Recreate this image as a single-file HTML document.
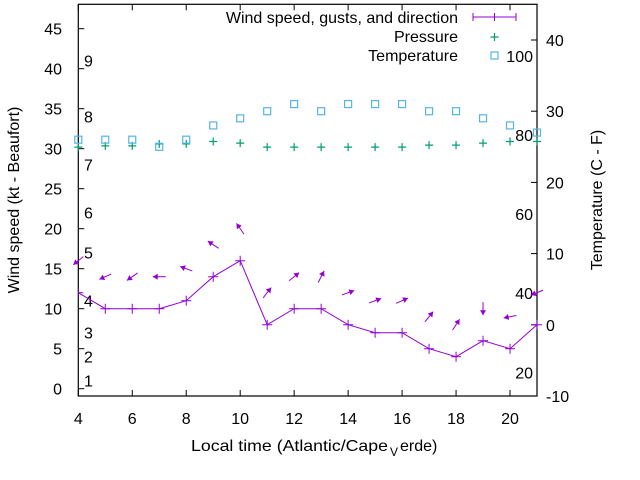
<!DOCTYPE html>
<html><head><meta charset="utf-8"><style>
html,body{margin:0;padding:0;background:#fff;}
svg{display:block;font-family:"Liberation Sans",Arial,sans-serif;}
</style></head><body>
<svg id="chart" width="640" height="480" viewBox="0 0 640 480"></svg>
<script>
const hours=[4,5,6,7,8,9,10,11,12,13,14,15,16,17,18,19,20,21];
const windSpeed=[12,10,10,10,11,14,16,8,10,10,8,7,7,5,4,6,5,8];
const gusts=[16,14,14,14,15,18,20,12,14,14,12,11,11,9,8,10,9,12];
const arrowAngle=[219,204,215,180,160,146,125,52,39,63,20,20,24,51,57,270,191,202];
const pressure=[30.2,30.35,30.35,30.6,30.6,30.9,30.7,30.2,30.2,30.2,30.2,30.2,30.2,30.45,30.45,30.7,30.9,30.9];
const temperature=[26,26,26,25,26,28,29,30,31,30,31,31,31,30,30,29,28,27];
const xTicks=[4,6,8,10,12,14,16,18,20];
const yLeftTicks=[0,5,10,15,20,25,30,35,40,45];
const yRightTicks=[-10,0,10,20,30,40];
const beaufortLabels=[[1,1],[2,4],[3,7],[4,11],[5,17],[6,22],[7,28],[8,34],[9,41]];
const fahrenheitLabels=[20,40,60,80,100];

const NS='http://www.w3.org/2000/svg';
const svg=document.getElementById('chart');
const L=78.3,R=537,T=4.3,B=396;
const xS=v=>L+(v-4)*(R-L)/17;
const yL=v=>388.7-8*v;
const yR=v=>324.8-7.12*v;
function mk(tag,at,parent){const e=document.createElementNS(NS,tag);for(const k in at)e.setAttribute(k,at[k]);(parent||svg).appendChild(e);return e;}
function txt(s,x,y,anchor,parent){const t=mk('text',{x:x,y:y,'font-size':16,'text-anchor':anchor||'middle',fill:'#000'},parent);t.textContent=s;return t;}

const frame=mk('rect',{x:L,y:T,width:R-L,height:B-T,fill:'none',stroke:'#000','stroke-width':1.2});



const xg=mk('g',{});


xTicks.forEach(v=>{const x=xS(v);
mk('line',{x1:x,y1:B,x2:x,y2:B-6,stroke:'#000'},xg);
mk('line',{x1:x,y1:T,x2:x,y2:T+6,stroke:'#000'},xg);
const t=txt(String(v),x,424,'middle',xg);

});
const xt=mk('text',{x:191,y:451,'font-size':16,fill:'#000',textLength:197,lengthAdjust:'spacingAndGlyphs'});
xt.textContent='Local time (Atlantic/Cape';


const xt2=mk('text',{x:390,y:451,'font-size':16,fill:'#000'});
xt2.innerHTML='<tspan font-size="12" dy="5">V</tspan><tspan dx="2" dy="-5">erde)</tspan>';



const yg=mk('g',{});


yLeftTicks.forEach(v=>{const y=yL(v);
mk('line',{x1:L,y1:y,x2:L+6,y2:y,stroke:'#000'},yg);
const t=txt(String(v),62,y+6,'end',yg);

});
beaufortLabels.forEach(b=>{const t=txt(String(b[0]),84,yL(b[1])+6,'start',yg);

});
const yt=txt('Wind speed (kt - Beaufort)',0,0,'middle');
yt.setAttribute('transform','translate(19,200) rotate(-90)');



const rg=mk('g',{});


yRightTicks.forEach(v=>{const y=yR(v);
mk('line',{x1:R,y1:y,x2:R-6,y2:y,stroke:'#000'},rg);
const t=txt(String(v),546,y+6,'start',rg);

});
fahrenheitLabels.forEach(f=>{const c=(f-32)*5/9;const t=txt(String(f),533,yR(c)+6,'end',rg);

});
const rt=txt('Temperature (C - F)',0,0,'middle');
rt.setAttribute('transform','translate(602,200) rotate(-90)');



const defs=mk('defs',{});
const cp=mk('clipPath',{id:'clip'},defs);
mk('rect',{x:L,y:T,width:R-L+8,height:B-T},cp);

const wg=mk('g',{'clip-path':'url(#clip)'});


const pts=hours.map((h,i)=>xS(h)+','+yL(windSpeed[i])).join(' ');
const pl=mk('polyline',{points:pts,fill:'none',stroke:'#9400d3','stroke-width':1},wg);


hours.forEach((h,i)=>{const x=xS(h),y=yL(windSpeed[i]);
const p=mk('path',{d:`M${x-5},${y}h10M${x},${y-5}v10`,stroke:'#9400d3','stroke-width':1},wg);

});
const ag=mk('g',{});


hours.forEach((h,i)=>{const cx=xS(h),cy=yL(gusts[i]);const a=arrowAngle[i]*Math.PI/180;
const dx=Math.cos(a)*6.5,dy=-Math.sin(a)*6.5;const hx=cx+dx,hy=cy+dy,tx=cx-dx,ty=cy-dy;
const ux=dx/6.5,uy=dy/6.5;const bx=hx-ux*5,by=hy-uy*5;
const g=mk('g',{},ag);


mk('line',{x1:tx,y1:ty,x2:hx,y2:hy,stroke:'#9400d3','stroke-width':1},g);
mk('polygon',{points:`${hx},${hy} ${bx-uy*3},${by+ux*3} ${bx+uy*3},${by-ux*3}`,fill:'#9400d3'},g);});

const pg=mk('g',{});


hours.forEach((h,i)=>{const x=xS(h),y=yL(pressure[i]);
const p=mk('path',{d:`M${x-4},${y}h8M${x},${y-4}v8`,stroke:'#009e73','stroke-width':1.2},pg);

});

const tg=mk('g',{});


hours.forEach((h,i)=>{const x=xS(h),y=yR(temperature[i]);
const r=mk('rect',{x:x-3.5,y:y-3.5,width:7,height:7,fill:'none',stroke:'#56b4e9','stroke-width':1.2},tg);

});

const lg=mk('g',{});


const e1=txt('Wind speed, gusts, and direction',458,23,'end',lg);


mk('path',{d:'M473,17h43M473,13v8M494.5,13v8M516,13v8',stroke:'#9400d3','stroke-width':1},lg);
const e2=txt('Pressure',458,42,'end',lg);


mk('path',{d:'M490.5,37h8M494.5,33v8',stroke:'#009e73','stroke-width':1.2},lg);
const e3=txt('Temperature',458,61,'end',lg);


mk('rect',{x:491,y:52,width:7,height:7,fill:'none',stroke:'#56b4e9','stroke-width':1.2},lg);
</script>
</body></html>
